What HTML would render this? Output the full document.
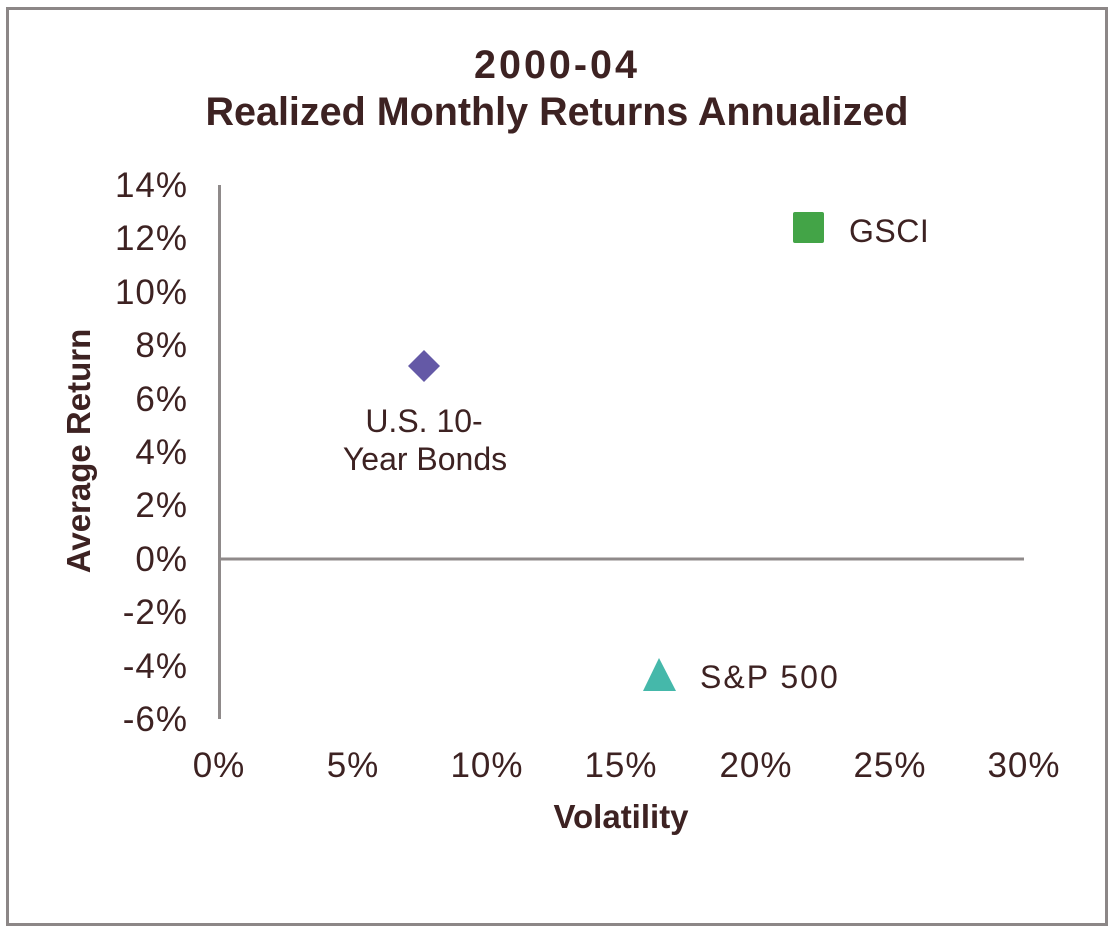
<!DOCTYPE html>
<html>
<head>
<meta charset="utf-8">
<style>
  html,body{margin:0;padding:0;background:#ffffff;}
  svg{display:block;}
  text{font-family:"Liberation Sans", "DejaVu Sans", sans-serif;fill:#3d2222;}
  .tick{font-size:35px;letter-spacing:1px;}
  .lbl{font-size:32px;}
  .ttl{font-size:39.5px;font-weight:bold;}
  .ax{font-size:33px;font-weight:bold;}
</style>
</head>
<body>
<svg width="1115" height="933" viewBox="0 0 1115 933" xmlns="http://www.w3.org/2000/svg">
  <rect x="0" y="0" width="1115" height="933" fill="#ffffff"/>
  <rect x="7.5" y="8.5" width="1099" height="916" fill="none" stroke="#8c8787" stroke-width="3"/>

  <!-- Title -->
  <text class="ttl" x="557" y="78" text-anchor="middle" letter-spacing="3">2000-04</text>
  <text class="ttl" x="557" y="125" text-anchor="middle">Realized Monthly Returns Annualized</text>

  <!-- Axes -->
  <line x1="219.5" y1="185" x2="219.5" y2="719" stroke="#8f8a8a" stroke-width="3"/>
  <line x1="219" y1="559" x2="1024" y2="559" stroke="#8f8a8a" stroke-width="3"/>

  <!-- Y tick labels -->
  <g class="tick" text-anchor="end">
    <text x="188" y="197">14%</text>
    <text x="188" y="250">12%</text>
    <text x="188" y="304">10%</text>
    <text x="188" y="357">8%</text>
    <text x="188" y="411">6%</text>
    <text x="188" y="464">4%</text>
    <text x="188" y="517">2%</text>
    <text x="188" y="571">0%</text>
    <text x="188" y="624">-2%</text>
    <text x="188" y="678">-4%</text>
    <text x="188" y="731">-6%</text>
  </g>

  <!-- X tick labels -->
  <g class="tick" text-anchor="middle">
    <text x="219" y="777">0%</text>
    <text x="353" y="777">5%</text>
    <text x="487" y="777">10%</text>
    <text x="621" y="777">15%</text>
    <text x="756" y="777">20%</text>
    <text x="890" y="777">25%</text>
    <text x="1024" y="777">30%</text>
  </g>

  <!-- Axis titles -->
  <text class="ax" x="621" y="828" text-anchor="middle">Volatility</text>
  <text class="ax" transform="translate(90,451) rotate(-90)" text-anchor="middle">Average Return</text>

  <!-- GSCI -->
  <rect x="793" y="212" width="31" height="31" rx="2" fill="#43a447"/>
  <text class="lbl" x="849" y="242" letter-spacing="0.5">GSCI</text>

  <!-- Bonds -->
  <polygon points="424,350 440,366 424,382 408,366" fill="#6459a6"/>
  <text class="lbl" x="424" y="432" text-anchor="middle">U.S. 10-</text>
  <text class="lbl" x="425" y="470" text-anchor="middle">Year Bonds</text>

  <!-- S&P 500 -->
  <polygon points="659,658 676,691 643,691" fill="#45b8aa"/>
  <text class="lbl" x="700" y="688" letter-spacing="2">S&amp;P 500</text>
</svg>
</body>
</html>
